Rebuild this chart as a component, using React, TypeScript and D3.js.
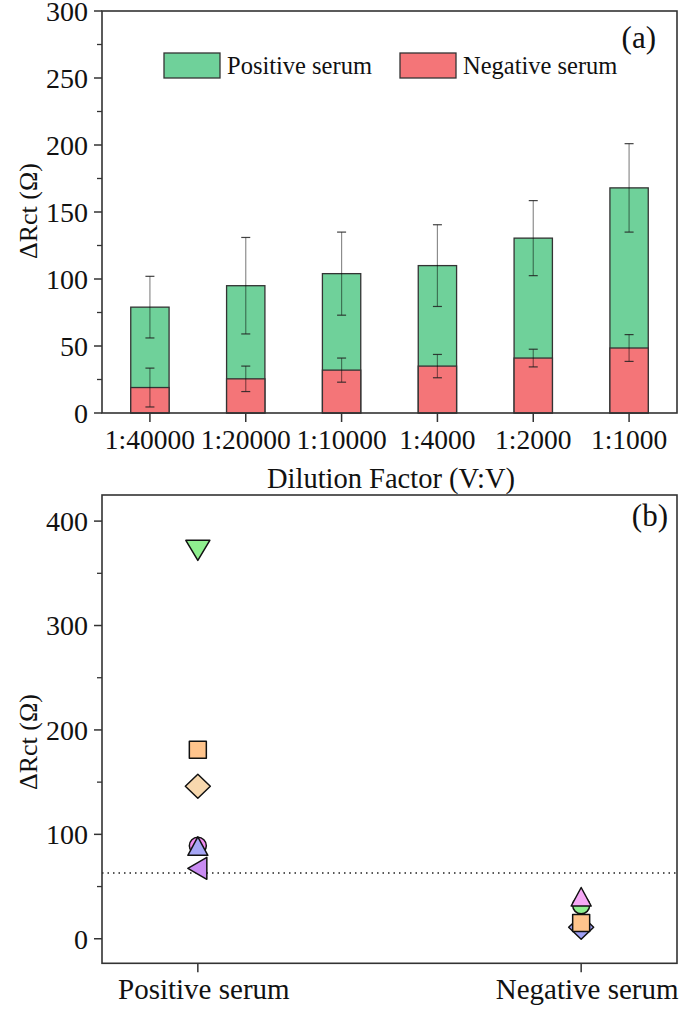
import React from "react";
import * as d3 from "d3";

const categories = ["1:40000", "1:20000", "1:10000", "1:4000", "1:2000", "1:1000"];
const positiveMean = [79, 95, 104, 110, 130.5, 168];
const positiveErr = [23, 36, 31, 30.5, 28, 33];
const negativeMean = [19, 25.5, 32, 35, 41, 48.5];
const negativeErr = [14.5, 9.5, 9, 8.7, 6.6, 10];
const topTicks = [0, 50, 100, 150, 200, 250, 300];
const topMinor = [25, 75, 125, 175, 225, 275];

const groups = ["Positive serum", "Negative serum"];
const bottomTicks = [0, 100, 200, 300, 400];
const bottomMinor = [50, 150, 250, 350];
const cutoff = 63;
// samples: group, value, shape, color (drawing order)
const sampleGroup = ["Positive serum", "Positive serum", "Positive serum", "Positive serum", "Positive serum", "Positive serum", "Negative serum", "Negative serum", "Negative serum", "Negative serum"];
const sampleValue = [372, 181, 146, 89, 88.5, 67.5, 11, 15, 32, 40];
const sampleShape = ["down", "square", "diamond", "circle", "up", "left", "diamond", "square", "circle", "up"];
const sampleColor = ["#8FEF8F", "#FFC48C", "#F7D8AE", "#F08CF0", "#A6A6F5", "#C98CF2", "#A0A0F5", "#FFC48C", "#8FEF8F", "#F5A8F5"];

const FONT = "Times New Roman, Liberation Serif, Times, serif";
const AX = "#333";

function markerPath(shape: string): string {
  switch (shape) {
    case "down":
      return "M-12,-10L12,-10L0,10Z";
    case "up":
      return "M0,-9.5L10,9L-10,9Z";
    case "left":
      return "M-10,0L9,-11L9,11Z";
    case "square":
      return "M-8.5,-8.5H8.5V8.5H-8.5Z";
    case "diamond":
      return "M0,-12L12.5,0L0,12L-12.5,0Z";
    case "circle":
    default:
      return d3.arc()({ innerRadius: 0, outerRadius: 8.5, startAngle: 0, endAngle: Math.PI * 2 }) as string;
  }
}

export default function App() {
  const L = 102, R = 677;
  // top panel
  const tTop = 11, tBot = 413;
  const x = d3.scaleBand<string>().domain(categories).range([L, R]).paddingInner(0.6).paddingOuter(0.3);
  const y = d3.scaleLinear().domain([0, 300]).range([tBot, tTop]);
  const bw = x.bandwidth();
  const cx = (c: string) => (x(c) as number) + bw / 2;

  // bottom panel
  const bTop = 495, bBot = 963.3;
  const xb = d3.scalePoint<string>().domain(groups).range([L, R]).padding(0.25);
  const yb = d3.scaleLinear().domain([-23.5, 425]).range([bBot, bTop]);

  const errBar = (c: string, m: number, e: number, k: string) => {
    const xc = cx(c);
    const y1 = y(m + e), y2 = y(m - e);
    return (
      <g key={k}>
        <line x1={xc} x2={xc} y1={y1} y2={y2} stroke="#000" strokeOpacity={0.45} strokeWidth={1.2} />
        <line x1={xc - 4.5} x2={xc + 4.5} y1={y1} y2={y1} stroke="#222" strokeOpacity={0.85} strokeWidth={1.2} />
        <line x1={xc - 4.5} x2={xc + 4.5} y1={y2} y2={y2} stroke="#222" strokeOpacity={0.85} strokeWidth={1.2} />
      </g>
    );
  };

  return (
    <svg width={685} height={1009} style={{ position: "absolute", left: 0, top: 0, background: "#fff" }} fontFamily={FONT}>
      {/* ===== Panel (a) ===== */}
      {categories.map((c, i) => (
        <rect key={"p" + i} x={x(c)} y={y(positiveMean[i])} width={bw} height={y(0) - y(positiveMean[i])}
          fill="#6FD19A" stroke={AX} strokeWidth={1.3} />
      ))}
      {categories.map((c, i) => (
        <rect key={"n" + i} x={x(c)} y={y(negativeMean[i])} width={bw} height={y(0) - y(negativeMean[i])}
          fill="#F47578" stroke={AX} strokeWidth={1.3} />
      ))}
      {categories.map((c, i) => errBar(c, positiveMean[i], positiveErr[i], "ep" + i))}
      {categories.map((c, i) => errBar(c, negativeMean[i], negativeErr[i], "en" + i))}

      <rect x={L} y={tTop} width={R - L} height={tBot - tTop} fill="none" stroke={AX} strokeWidth={1.6} />
      {topTicks.map((t) => (
        <g key={"yt" + t}>
          <line x1={L - 8} x2={L} y1={y(t)} y2={y(t)} stroke={AX} strokeWidth={1.5} />
          <text x={L - 14} y={y(t)} dy="0.35em" textAnchor="end" fontSize={28} fill="#111">{t}</text>
        </g>
      ))}
      {topMinor.map((t) => (
        <line key={"ym" + t} x1={L - 5} x2={L} y1={y(t)} y2={y(t)} stroke={AX} strokeWidth={1.3} />
      ))}
      {categories.map((c) => (
        <g key={"xt" + c}>
          <line x1={cx(c)} x2={cx(c)} y1={tBot} y2={tBot + 9} stroke={AX} strokeWidth={1.5} />
          <text x={cx(c)} y={449} textAnchor="middle" fontSize={27.5} fill="#111">{c}</text>
        </g>
      ))}
      <text x={391} y={488} textAnchor="middle" fontSize={28.5} fill="#111">Dilution Factor (V:V)</text>
      <text transform={`translate(37,211) rotate(-90)`} textAnchor="middle" fontSize={26} fill="#111">ΔRct (Ω)</text>
      <text x={656} y={48} textAnchor="end" fontSize={31} fill="#111">(a)</text>

      {/* legend */}
      <rect x={164} y={53} width={56} height={25} fill="#6FD19A" stroke={AX} strokeWidth={1.3} />
      <text x={227} y={74} fontSize={24.5} fill="#111">Positive serum</text>
      <rect x={400} y={53} width={56} height={25} fill="#F47578" stroke={AX} strokeWidth={1.3} />
      <text x={463} y={74} fontSize={24.5} fill="#111">Negative serum</text>

      {/* ===== Panel (b) ===== */}
      <line x1={L} x2={R} y1={yb(cutoff)} y2={yb(cutoff)} stroke="#222" strokeWidth={1.3} strokeDasharray="1.5 4" />
      {sampleValue.map((v, i) => (
        <path key={"s" + i} d={markerPath(sampleShape[i])}
          transform={`translate(${xb(sampleGroup[i])},${yb(v)})`}
          fill={sampleColor[i]} stroke="#111" strokeWidth={1.5} strokeLinejoin="round" />
      ))}
      <rect x={L} y={bTop} width={R - L} height={bBot - bTop} fill="none" stroke={AX} strokeWidth={1.6} />
      {bottomTicks.map((t) => (
        <g key={"byt" + t}>
          <line x1={L - 8} x2={L} y1={yb(t)} y2={yb(t)} stroke={AX} strokeWidth={1.5} />
          <text x={L - 14} y={yb(t)} dy="0.35em" textAnchor="end" fontSize={28} fill="#111">{t}</text>
        </g>
      ))}
      {bottomMinor.map((t) => (
        <line key={"bym" + t} x1={L - 5} x2={L} y1={yb(t)} y2={yb(t)} stroke={AX} strokeWidth={1.3} />
      ))}
      {groups.map((g) => (
        <g key={"bxt" + g}>
          <line x1={xb(g)} x2={xb(g)} y1={bBot} y2={bBot + 9} stroke={AX} strokeWidth={1.5} />
          <text x={(xb(g) as number) + 6} y={999} textAnchor="middle" fontSize={29} fill="#111">{g}</text>
        </g>
      ))}
      <text transform={`translate(37,742) rotate(-90)`} textAnchor="middle" fontSize={26} fill="#111">ΔRct (Ω)</text>
      <text x={668} y={526} textAnchor="end" fontSize={31} fill="#111">(b)</text>
    </svg>
  );
}
